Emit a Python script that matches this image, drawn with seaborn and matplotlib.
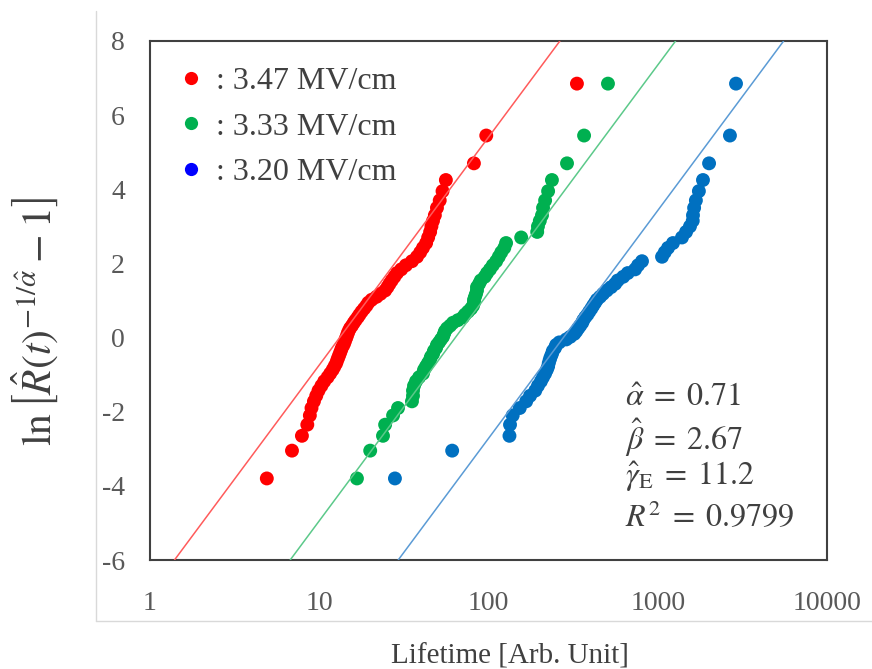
import seaborn as sns
import matplotlib.pyplot as plt
from matplotlib.lines import Line2D
from matplotlib.ticker import LogLocator, NullFormatter
import numpy as np
import pandas as pd

# plotting positions (shared by the three stress levels)
ylev = [6.85, 5.45, 4.7, 4.25, 3.95, 3.7, 3.5, 3.3, 3.15, 3.0, 2.85, 2.7, 2.55, 2.42, 2.3,
        2.18, 2.06, 1.95, 1.84, 1.74, 1.64, 1.54, 1.45, 1.36, 1.27, 1.18, 1.1, 1.02, 0.94,
        0.86, 0.78, 0.7, 0.62, 0.55, 0.47, 0.4, 0.32, 0.25, 0.17, 0.1, 0.02, -0.05, -0.13,
        -0.2, -0.28, -0.36, -0.44, -0.52, -0.6, -0.69, -0.78, -0.87, -0.97, -1.07, -1.18,
        -1.3, -1.43, -1.57, -1.72, -1.9, -2.1, -2.35, -2.65, -3.05, -3.8]

red_x = [333, 97, 82, 56, 53.5, 51.5, 49.6, 48.2, 47, 46, 45.2, 44, 42.8, 41, 39.5,
         37.8, 35.3, 32.5, 30.5, 28.8, 27.8, 26.8, 26, 25.3, 24.5, 23, 21.8, 20.4, 19.5,
         19, 18.4, 17.8, 17.3, 16.9, 16.4, 16, 15.6, 15.2, 14.9, 14.7, 14.5, 14.3, 14.1,
         13.9, 13.6, 13.4, 13.2, 13.0, 12.8, 12.6, 12.3, 12.0, 11.6, 11.2, 10.7,
         10.3, 9.9, 9.6, 9.3, 9.0, 8.8, 8.5, 7.9, 6.9, 4.9]

green_x = [508, 367, 291, 237, 225, 216, 210, 207, 201, 196, 194, 156, 127, 124, 119,
           115, 111, 106, 102, 98, 95, 90, 88, 85.5, 85.5, 84.4, 83.2, 82.1, 82.1,
           81, 78.8, 75.7, 72.6, 70.7, 66, 61.7, 59.3, 56.9, 55.3, 54.6, 53.8, 52.4, 51,
           49.6, 49, 47.6, 47, 45.7, 45.1, 43.9, 42.7, 41.6, 41, 38.9, 37.3,
           36.3, 35.8, 35.8, 35.3, 29.2, 27.3, 24.5, 23.8, 20, 16.7]

blue_x = [2900, 2670, 2010, 1850, 1750, 1680, 1640, 1615, 1610, 1550, 1470, 1390, 1230, 1150, 1100,
          1060, 807, 765, 735, 665, 625, 580, 560, 530, 500, 475, 456, 437, 426,
          415, 405, 394, 384, 373, 363, 358, 348, 339, 330, 321, 304, 288, 262,
          251, 247, 240, 237, 233, 230, 227, 225, 221, 216, 210, 204,
          196, 189, 176, 167, 153, 139, 134, 133, 61, 28]

fields = [': 3.47 MV/cm', ': 3.33 MV/cm', ': 3.20 MV/cm']
point_colors = ['#FF0000', '#00B050', '#0070C0']
legend_colors = ['#FF0000', '#00B050', '#0000FF']
line_colors = ['#FF5B5B', '#5CC98A', '#5B9BD5']

# fitted lines: y = beta * ln(t / eta)
beta_fit = 2.67
eta_fit = [13.2, 63.7, 277]

frames = []
for name, xs in zip(fields, [red_x, green_x, blue_x]):
    frames.append(pd.DataFrame({'lifetime': xs, 'y': ylev, 'field': name}))
data = pd.concat(frames, ignore_index=True)

sns.set_theme(style='white')
plt.rcParams['font.family'] = ['Liberation Serif', 'DejaVu Serif']
plt.rcParams['mathtext.fontset'] = 'stix'
plt.rcParams['axes.unicode_minus'] = False

fig = plt.figure(figsize=(8.72, 6.69), dpi=100)
ax = fig.add_axes([150 / 872, 1 - 560 / 669, 677 / 872, 519 / 669])

sns.scatterplot(data=data, x='lifetime', y='y', hue='field', palette=point_colors,
                s=100, linewidth=0, legend=False, ax=ax, zorder=3)

ylim = (-6, 8)
for eta, c in zip(eta_fit, line_colors):
    ts = [eta * np.exp(ylim[0] / beta_fit), eta * np.exp(ylim[1] / beta_fit)]
    ax.plot(ts, ylim, color=c, lw=1.1, zorder=4)

ax.set_xscale('log')
ax.set_xlim(1, 10000)
ax.set_ylim(*ylim)
ax.set_yticks([-6, -4, -2, 0, 2, 4, 6, 8])
ax.set_xticks([1, 10, 100, 1000, 10000])
ax.set_xticklabels(['1', '10', '100', '1000', '10000'])
ax.xaxis.set_minor_locator(LogLocator(base=10, subs=np.arange(2, 10)))
ax.xaxis.set_minor_formatter(NullFormatter())

tick_col = '#595959'
ax.tick_params(axis='x', which='major', direction='in', length=7, width=1.3,
               color='#404040', labelsize=20, labelcolor=tick_col, pad=22, top=False)
ax.tick_params(axis='x', which='minor', direction='in', length=4.5, width=1.1,
               color='#404040', top=False)
ax.tick_params(axis='y', which='major', direction='in', length=7, width=1.3,
               color='#404040', labelsize=20, labelcolor=tick_col, pad=18, right=False)
for s in ax.spines.values():
    s.set_color('#404040')
    s.set_linewidth(1.5)

ax.set_xlabel('Lifetime [Arb. Unit]', fontsize=21, color='#404040')
ax.xaxis.set_label_coords(0.532, -0.16)
ax.set_ylabel(r'$\ln\left[\hat{R}(t)^{-1/\hat{\alpha}}-1\right]$', fontsize=30, color='#404040')
ax.yaxis.set_label_coords(-0.133, 0.46)

handles = [Line2D([], [], marker='o', ls='none', markersize=9.5, color=c, markeredgewidth=0)
           for c in legend_colors]
leg = ax.legend(handles, fields, loc='upper left', bbox_to_anchor=(0.041, 0.95),
                frameon=False, fontsize=23, handlelength=0.8, handletextpad=0.4,
                labelspacing=0.5, borderpad=0, borderaxespad=0)
for t in leg.get_texts():
    t.set_color('#404040')

stats = [r'$\hat{\alpha}\;=\;0.71$', r'$\hat{\beta}\;=\;2.67$',
         r'$\hat{\gamma}_{\mathrm{E}}\;=\;11.2$', r'$R^2\;=\;0.9799$']
for txt, yy in zip(stats, [0.312, 0.235, 0.160, 0.081]):
    ax.text(0.7016, yy, txt, transform=ax.transAxes, fontsize=23, color='#404040',
            ha='left', va='center')

# outer chart-area border (only left and bottom visible)
fig.add_artist(Line2D([96 / 872, 96 / 872], [1 - 11 / 669, 1 - 621 / 669],
                      transform=fig.transFigure, color='#D9D9D9', lw=1))
fig.add_artist(Line2D([96 / 872, 1.0], [1 - 621 / 669, 1 - 621 / 669],
                      transform=fig.transFigure, color='#D9D9D9', lw=1))

fig.savefig('out.png', dpi=100)
